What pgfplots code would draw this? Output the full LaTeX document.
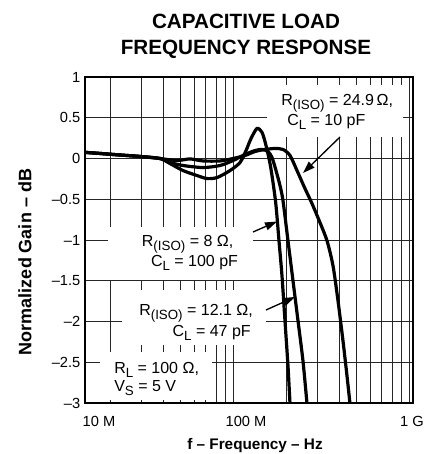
\documentclass[border=0pt]{standalone}
\usepackage{fontspec}
\setmainfont{Liberation Sans}
\usepackage{pgfplots}
\pgfplotsset{compat=1.18}
\usetikzlibrary{arrows.meta}
\newcommand\sub[1]{\raisebox{-3pt}{\fontsize{10}{10}\selectfont #1}}
\begin{document}
\begin{tikzpicture}
\path[use as bounding box] (-63.75pt,-38.25pt) rectangle (264.75pt,302.25pt);
\begin{axis}[
  at={(0pt,0pt)}, anchor=south west,
  scale only axis, width=246pt, height=244.5pt,
  xmode=log, xmin=1.442e7, xmax=1.054e9,
  ymin=-3, ymax=1,
  ytick={-3,-2.5,-2,-1.5,-1,-0.5,0,0.5,1},
  yticklabels={–3,–2.5,–2,–1.5,–1,–0.5,0,0.5,1},
  xtick={1.732e7,1.186e8,1.040e9},
  xticklabels={10 M,100 M,1 G},
  minor xtick={2e7,3e7,4e7,5e7,6e7,7e7,8e7,9e7,1e8,2e8,3e8,4e8,5e8,6e8,7e8,8e8,9e8,1e9},
  xmajorgrids=false, xminorgrids=true, ymajorgrids=true,
  major tick length=0pt, minor tick length=0pt,
  tick label style={font=\fontsize{11}{13}\selectfont},
  xticklabel style={anchor=base, yshift=-17.8pt},
  axis line style={line width=1.2pt},
  grid style={line width=0.6pt, black!85},
  minor grid style={line width=0.6pt, black!85},
  curve/.style={line width=2.4pt, black, no marks, smooth, tension=0.45},
]
% R(ISO) = 8 Ohm, CL = 100 pF
\addplot[curve] coordinates {(1.45e7,0.075) (1.755e7,0.062) (2.280e7,0.043) (2.962e7,0.025) (3.847e7,0.0)
 (4.385e7,-0.062) (5.2e7,-0.148) (6.245e7,-0.209) (7.118e7,-0.246) (8.112e7,-0.234) (9.616e7,-0.148)
 (1.096e8,-0.049) (1.186e8,0.098) (1.266e8,0.246) (1.369e8,0.369) (1.462e8,0.32) (1.540e8,0.16)
 (1.623e8,-0.062) (1.688e8,-0.295) (1.755e8,-0.578) (1.825e8,-1.009) (1.898e8,-1.439)
 (1.974e8,-1.993) (2.053e8,-2.546) (2.108e8,-3.01)};
% R(ISO) = 12.1 Ohm, CL = 47 pF
\addplot[curve] coordinates {(1.45e7,0.075) (1.755e7,0.062) (2.280e7,0.043) (2.962e7,0.025) (3.847e7,0.0)
 (4.385e7,-0.049) (5.2e7,-0.086) (6.754e7,-0.111) (8.436e7,-0.086) (1.0e8,-0.025) (1.170e8,0.049)
 (1.334e8,0.098) (1.462e8,0.111) (1.581e8,0.086) (1.666e8,0.012) (1.755e8,-0.148) (1.849e8,-0.332)
 (1.923e8,-0.517) (2.053e8,-1.009) (2.192e8,-1.5) (2.341e8,-1.993) (2.498e8,-2.485) (2.633e8,-3.01)};
% R(ISO) = 24.9 Ohm, CL = 10 pF
\addplot[curve] coordinates {(1.45e7,0.075) (1.755e7,0.062) (2.280e7,0.043) (2.962e7,0.025) (3.847e7,0.0)
 (4.806e7,-0.025) (5.697e7,-0.005) (6.754e7,-0.03) (8.436e7,-0.03) (1.0e8,0.0) (1.170e8,0.037)
 (1.334e8,0.086) (1.520e8,0.111) (1.732e8,0.123) (1.923e8,0.111) (2.108e8,0.037) (2.310e8,-0.148)
 (2.565e8,-0.369) (2.811e8,-0.553) (3.122e8,-0.787) (3.421e8,-1.009) (3.700e8,-1.316)
 (3.951e8,-1.747) (4.217e8,-2.239) (4.444e8,-2.669) (4.622e8,-3.01)};
\end{axis}
% white label backgrounds
\fill[white] (136.5pt,199.5pt) rectangle (238.5pt,238.5pt);
\fill[white] (17.25pt,92.25pt) rectangle (126pt,132pt);
\fill[white] (27.75pt,43.5pt) rectangle (135.75pt,84.75pt);
\fill[white] (11.25pt,2.25pt) rectangle (95.25pt,38.25pt);
% labels
\begin{scope}[every node/.style={inner sep=0pt, anchor=base west, font=\fontsize{12}{14}\selectfont}]
\node at (147pt,222.75pt) {R\sub{(ISO)} = 24.9\,Ω,};
\node at (151.5pt,207.75pt) {C\sub{L} = 10 pF};
\node at (42.5pt,117.2pt) {R\sub{(ISO)} = 8 Ω,};
\node at (49.3pt,102.2pt) {C\sub{L} = 100 pF};
\node at (40.5pt,66pt) {R\sub{(ISO)} = 12.1 Ω,};
\node at (65.5pt,49.7pt) {C\sub{L} = 47 pF};
\node at (21.75pt,22.25pt) {R\sub{L} = 100 Ω,};
\node at (21.75pt,8.5pt) {V\sub{S} = 5 V};
\end{scope}
% arrows
\begin{scope}[line width=1pt, -{Triangle[length=9pt,width=6pt]}]
\draw (191.25pt,199.5pt) -- (163.5pt,172.5pt);
\draw (126pt,128.25pt) -- (144pt,136.1pt);
\draw (135.75pt,69.75pt) -- (157.5pt,79.5pt);
\end{scope}
% titles
\node[anchor=base, inner sep=0pt, font=\fontsize{15.5}{18}\selectfont\bfseries] at (120.75pt,281pt) {CAPACITIVE LOAD};
\node[anchor=base, inner sep=0pt, font=\fontsize{15.5}{18}\selectfont\bfseries] at (120.75pt,261pt) {FREQUENCY RESPONSE};
\node[anchor=base, inner sep=0pt, font=\fontsize{11.5}{14}\selectfont\bfseries] at (127.5pt,-35pt) {f – Frequency – Hz};
\node[rotate=90, inner sep=0pt, font=\fontsize{13.5}{16}\selectfont\bfseries] at (-45pt,105.75pt) {Normalized Gain – dB};
\end{tikzpicture}
\end{document}
